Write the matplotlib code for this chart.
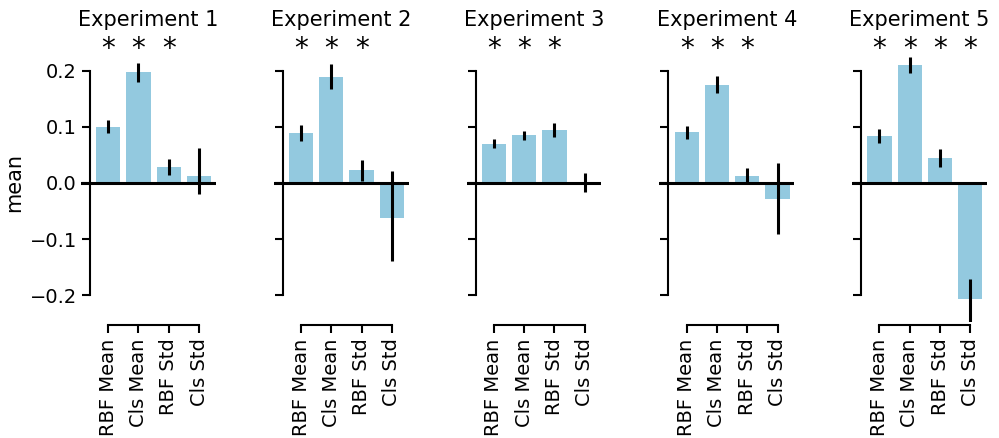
import matplotlib
matplotlib.use("Agg")
import matplotlib.pyplot as plt
import numpy as np

# 五个实验，每个 4 根柱子：均值 + CI 上下界
categories = ["RBF Mean", "Cls Mean", "RBF Std", "Cls Std"]
experiments = ["Experiment 1", "Experiment 2", "Experiment 3", "Experiment 4", "Experiment 5"]

means = [
    [0.100, 0.197, 0.029, 0.013],
    [0.089, 0.189, 0.023, -0.062],
    [0.070, 0.085, 0.094, -0.001],
    [0.090, 0.174, 0.013, -0.028],
    [0.084, 0.210, 0.045, -0.207],
]
ci_low = [
    [0.089, 0.180, 0.014, -0.020],
    [0.075, 0.167, 0.004, -0.139],
    [0.063, 0.076, 0.082, -0.016],
    [0.079, 0.160, 0.000, -0.091],
    [0.072, 0.196, 0.028, -0.260],
]
ci_high = [
    [0.112, 0.214, 0.042, 0.062],
    [0.103, 0.212, 0.041, 0.022],
    [0.078, 0.093, 0.107, 0.017],
    [0.101, 0.190, 0.027, 0.035],
    [0.096, 0.224, 0.061, -0.171],
]
# 显著性标记（* 在哪几根柱子上）
significant = [
    [0, 1, 2],
    [0, 1, 2],
    [0, 1, 2],
    [0, 1, 2],
    [0, 1, 2, 3],
]
yticks = [-0.2, -0.1, 0.0, 0.1, 0.2]

bar_color = "#93c9df"

plt.rcParams["font.family"] = "DejaVu Sans"
plt.rcParams["axes.linewidth"] = 1.5

fig, axes = plt.subplots(1, 5, figsize=(9.99, 4.38), dpi=100, sharey=True)
fig.subplots_adjust(left=0.081, right=0.988, bottom=0.264, top=0.903, wspace=0.43)

x = np.arange(len(categories))
for k, ax in enumerate(axes):
    m = np.array(means[k])
    lo = np.array(ci_low[k])
    hi = np.array(ci_high[k])
    ax.bar(x, m, width=0.8, color=bar_color, zorder=1)
    ax.axhline(0, color="black", lw=2.2, zorder=2)
    ax.errorbar(x, m, yerr=[m - lo, hi - m], fmt="none", ecolor="black",
                elinewidth=2.2, capsize=0, zorder=3)
    for i in significant[k]:
        ax.text(i, 0.238, "*", ha="center", va="center", fontsize=20, clip_on=False)

    ax.set_xlim(-0.9, 3.55)
    ax.set_ylim(-0.248, 0.25)
    ax.set_title(experiments[k], fontsize=15, pad=12)
    ax.set_xticks(x)
    ax.set_xticklabels(categories)
    ax.set_yticks(yticks)
    ax.tick_params(axis="both", length=6, width=1.5, labelsize=14)
    ax.tick_params(axis="x", labelrotation=90)

    for s in ("top", "right"):
        ax.spines[s].set_visible(False)
    ax.spines["left"].set_position(("data", -0.6))
    ax.spines["left"].set_bounds(-0.2, 0.2)
    ax.spines["bottom"].set_position(("outward", 2))
    ax.spines["bottom"].set_bounds(0, 3)
    if k > 0:
        ax.tick_params(axis="y", labelleft=False)

axes[0].set_ylabel("mean", fontsize=15)

fig.savefig("out.png", dpi=100)
